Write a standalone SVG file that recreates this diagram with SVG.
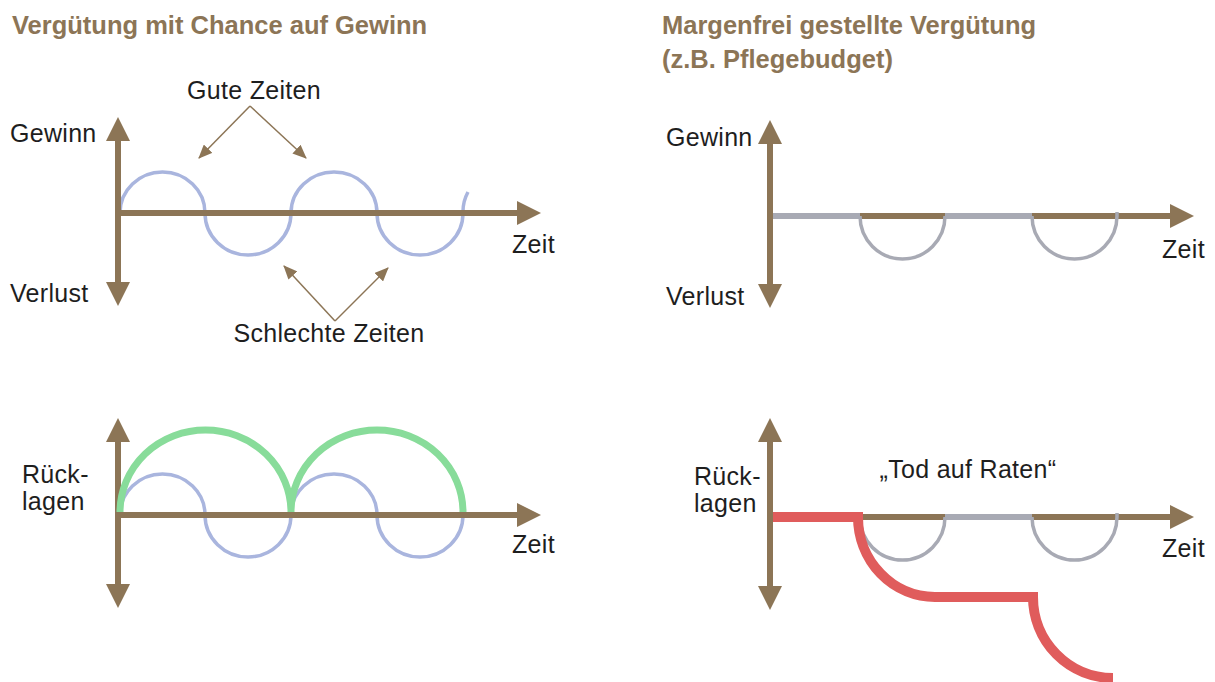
<svg xmlns="http://www.w3.org/2000/svg" width="1215" height="682" viewBox="0 0 1215 682">
<style>
.title{font-family:"Liberation Sans",Arial,sans-serif;font-weight:bold;font-size:25.5px;fill:#8C7556}
.lbl{font-family:"Liberation Sans",Arial,sans-serif;font-size:25px;letter-spacing:0.3px;fill:#1e1e1e}
.axis{stroke:#8C7556;stroke-width:6;fill:none;marker-start:url(#ah);marker-end:url(#ah)}
.haxis{stroke:#8C7556;stroke-width:6;fill:none;marker-end:url(#ah)}
.wave{stroke:#A9B5DE;stroke-width:3.5;fill:none}
.gray{stroke:#A8AAB4;stroke-width:3.5;fill:none}
.grayseg{stroke:#A8AAB4;stroke-width:6;fill:none}
.green{stroke:#88DC9A;stroke-width:7;fill:none}
.red{stroke:#E05C5C;stroke-width:10;fill:none;stroke-linejoin:miter}
.ann{stroke:#8C7556;stroke-width:1.5;fill:none;marker-end:url(#sa)}
</style>
<defs>
<marker id="ah" markerUnits="userSpaceOnUse" markerWidth="24" markerHeight="24" refX="0" refY="12" orient="auto-start-reverse" viewBox="0 0 24 24">
<path d="M0,0 L24,12 L0,24 z" fill="#8C7556"/>
</marker>
<marker id="sa" markerUnits="userSpaceOnUse" markerWidth="14" markerHeight="12" refX="13" refY="6" orient="auto" viewBox="0 0 14 12">
<path d="M0,0 L14,6 L0,12 z" fill="#8C7556"/>
</marker>
</defs>

<g id="titles">
<text class="title" x="12" y="34">Vergütung mit Chance auf Gewinn</text>
<text class="title" x="662" y="34">Margenfrei gestellte Vergütung</text>
<text class="title" x="662" y="68">(z.B. Pflegebudget)</text>
</g>

<g id="panel-top-left">
<path class="wave" d="M120,213 A42.5,41 0 0 1 205,213 A43,42 0 0 0 291,213 A43,41 0 0 1 377,213 A43,42 0 0 0 463,213 A43,42 0 0 1 468,192"/>
<line class="axis" x1="118" y1="141" x2="118" y2="282"/>
<line class="haxis" x1="118" y1="213" x2="517" y2="213"/>
<text class="lbl" x="10" y="142">Gewinn</text>
<text class="lbl" x="10" y="302">Verlust</text>
<text class="lbl" x="512" y="253">Zeit</text>
</g>

<g id="annotation-gute-zeiten">
<text class="lbl" x="254" y="99" text-anchor="middle">Gute Zeiten</text>
</g>
<g id="annotation-schlechte-zeiten">
<text class="lbl" x="329" y="342" text-anchor="middle">Schlechte Zeiten</text>
</g>

<g id="connectors">
<line class="ann" x1="250" y1="106" x2="199" y2="158"/>
<line class="ann" x1="250" y1="106" x2="306" y2="158"/>
<line class="ann" x1="335" y1="321" x2="284" y2="266"/>
<line class="ann" x1="335" y1="321" x2="388" y2="268"/>
</g>

<g id="panel-top-right">
<line class="axis" x1="770" y1="144" x2="770" y2="284"/>
<line class="haxis" x1="770" y1="216" x2="1170" y2="216"/>
<line class="grayseg" x1="773" y1="216" x2="860" y2="216"/>
<line class="grayseg" x1="945" y1="216" x2="1032" y2="216"/>
<path class="gray" d="M860,216 A42.5,43 0 0 0 945,216"/>
<path class="gray" d="M1032,216 A42.5,43 0 0 0 1117,216 L1117,212"/>
<text class="lbl" x="666" y="146">Gewinn</text>
<text class="lbl" x="666" y="305">Verlust</text>
<text class="lbl" x="1162" y="258">Zeit</text>
</g>

<g id="panel-bottom-left">
<path class="wave" d="M120,515 A42.5,41 0 0 1 205,515 A43,42 0 0 0 291,515 A43,41 0 0 1 377,515 A43,42 0 0 0 463,515"/>
<line class="axis" x1="118" y1="442" x2="118" y2="584"/>
<line class="haxis" x1="118" y1="515" x2="517" y2="515"/>
<path class="green" d="M120,512 A85.5,82 0 0 1 291,512 A86,82 0 0 1 463,512"/>
<text class="lbl" x="22" y="483">Rück-</text>
<text class="lbl" x="22" y="510">lagen</text>
<text class="lbl" x="512" y="553">Zeit</text>
</g>

<g id="panel-bottom-right">
<line class="axis" x1="770" y1="442" x2="770" y2="586"/>
<line class="haxis" x1="770" y1="517" x2="1170" y2="517"/>
<line class="grayseg" x1="945" y1="517" x2="1032" y2="517"/>
<path class="gray" d="M860,517 A42.5,43 0 0 0 945,517"/>
<path class="gray" d="M1032,517 A42.5,43 0 0 0 1117,517 L1117,513"/>
<path class="red" d="M773,517 H861 M858,512 L858,517 A77,80 0 0 0 935,597 H1033 A80,81 0 0 0 1113,678"/>
<text class="lbl" x="968" y="478" text-anchor="middle">„Tod auf Raten“</text>
<text class="lbl" x="694" y="485">Rück-</text>
<text class="lbl" x="694" y="512">lagen</text>
<text class="lbl" x="1162" y="557">Zeit</text>
</g>
</svg>
